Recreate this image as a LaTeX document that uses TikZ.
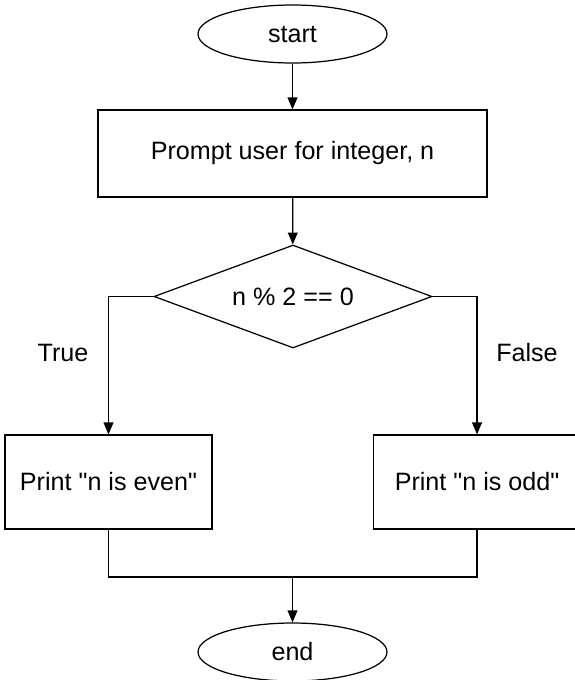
\documentclass[tikz,border=0pt]{standalone}
\usepackage{fontspec}
\setmainfont{Liberation Sans}
\usepackage{tikz}
\usetikzlibrary{positioning,arrows.meta,shapes.geometric}
\definecolor{fcLine}{RGB}{0,0,0}

\begin{document}
\begin{tikzpicture}[x=0.02cm, y=-0.02cm,
    font=\fontsize{14.3}{17}\selectfont,
    terminal/.style={ellipse, draw=fcLine, line width=0.7pt, inner sep=0pt,
      minimum width=3.78cm, minimum height=1.16cm},
    procbox/.style={rectangle, draw=fcLine, line width=0.7pt, inner sep=0pt},
    decision/.style={diamond, aspect=2.7, draw=fcLine, line width=0.7pt, inner sep=0pt,
      minimum width=5.56cm, minimum height=2.06cm},
    flow/.style={-{Triangle[length=6.8pt, width=5.6pt]}, fcLine, line width=0.7pt},
    joinline/.style={fcLine, line width=0.7pt}]
  \useasboundingbox (0,0) rectangle (575,680);

  % Terminals and steps
  \node[terminal] (start) at (292.5,34) {start};
  \node[procbox, minimum width=7.78cm, minimum height=1.74cm] (prompt) at (292.5,153.5) {Prompt user for integer, n};
  \node[decision] (cond) at (293,296.5) {n \% 2 == 0};
  \node[procbox, minimum width=4.14cm, minimum height=1.88cm] (even) at (108.5,482) {Print \textquotedbl n is even\textquotedbl};
  \node[procbox, minimum width=4.14cm, minimum height=1.88cm] (odd) at (477,482) {Print \textquotedbl n is odd\textquotedbl};
  \node[terminal] (end) at (292.5,652) {end};

  % Branch labels
  \node (truelbl) at (63,353) {True};
  \node (falselbl) at (527,353) {False};

  % Connectors
  \draw[flow] (start) -- (prompt);
  \draw[flow] (prompt) -- (cond);
  \draw[flow] (cond.west) -| (even.north);
  \draw[flow] (cond.east) -| (odd.north);
  \coordinate (join) at (292.5,577);
  \draw[joinline] (even.south) |- (join) -| (odd.south);
  \draw[flow] (join) -- (end);
\end{tikzpicture}
\end{document}
